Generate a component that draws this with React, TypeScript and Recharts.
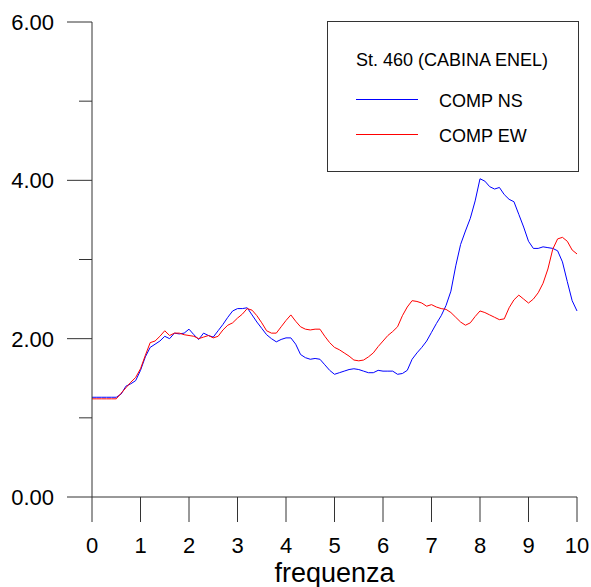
import { LineChart, Line, XAxis, YAxis, Legend } from 'recharts';

// frequency samples (Hz)
const freq = [
  0, 0.1, 0.2, 0.3, 0.4, 0.5, 0.6, 0.7, 0.8, 0.9,
  1, 1.1, 1.2, 1.3, 1.4, 1.5, 1.6, 1.7, 1.8, 1.9,
  2, 2.1, 2.2, 2.3, 2.4, 2.5, 2.6, 2.7, 2.8, 2.9,
  3, 3.1, 3.2, 3.3, 3.4, 3.5, 3.6, 3.7, 3.8, 3.9,
  4, 4.1, 4.2, 4.3, 4.4, 4.5, 4.6, 4.7, 4.8, 4.9,
  5, 5.1, 5.2, 5.3, 5.4, 5.5, 5.6, 5.7, 5.8, 5.9,
  6, 6.1, 6.2, 6.3, 6.4, 6.5, 6.6, 6.7, 6.8, 6.9,
  7, 7.1, 7.2, 7.3, 7.4, 7.5, 7.6, 7.7, 7.8, 7.9,
  8, 8.1, 8.2, 8.3, 8.4, 8.5, 8.6, 8.7, 8.8, 8.9,
  9, 9.1, 9.2, 9.3, 9.4, 9.5, 9.6, 9.7, 9.8, 9.9,
  10,
];

const compNS = [
  1.26, 1.26, 1.26, 1.26, 1.26, 1.26, 1.30, 1.40, 1.43, 1.47,
  1.60, 1.77, 1.89, 1.93, 1.97, 2.03, 2.00, 2.07, 2.06, 2.07,
  2.12, 2.05, 1.99, 2.07, 2.04, 2.02, 2.10, 2.18, 2.27, 2.35,
  2.38, 2.38, 2.39, 2.30, 2.21, 2.13, 2.05, 2.00, 1.96, 1.99,
  2.01, 2.01, 1.93, 1.80, 1.76, 1.74, 1.75, 1.74, 1.67, 1.60,
  1.55, 1.57, 1.59, 1.61, 1.62, 1.61, 1.59, 1.57, 1.57, 1.60,
  1.59, 1.59, 1.59, 1.55, 1.56, 1.60, 1.74, 1.82, 1.89, 1.97,
  2.08, 2.19, 2.29, 2.42, 2.60, 2.92, 3.19, 3.36, 3.52, 3.74,
  4.02, 3.99, 3.92, 3.89, 3.91, 3.82, 3.76, 3.73, 3.57, 3.41,
  3.23, 3.14, 3.14, 3.16, 3.15, 3.14, 3.11, 2.97, 2.72, 2.48,
  2.35,
];

const compEW = [
  1.24, 1.24, 1.24, 1.24, 1.24, 1.24, 1.31, 1.38, 1.45, 1.51,
  1.62, 1.79, 1.95, 1.97, 2.03, 2.10, 2.04, 2.07, 2.07, 2.05,
  2.04, 2.03, 2.00, 2.02, 2.04, 2.01, 2.03, 2.11, 2.17, 2.20,
  2.26, 2.31, 2.38, 2.36, 2.29, 2.20, 2.10, 2.07, 2.07, 2.15,
  2.23, 2.30, 2.22, 2.15, 2.12, 2.11, 2.12, 2.12, 2.03, 1.95,
  1.89, 1.86, 1.82, 1.78, 1.73, 1.72, 1.73, 1.77, 1.82, 1.90,
  1.97, 2.04, 2.09, 2.15, 2.29, 2.40, 2.48, 2.47, 2.45, 2.41,
  2.43, 2.40, 2.38, 2.37, 2.33, 2.27, 2.21, 2.17, 2.20, 2.28,
  2.35, 2.33, 2.30, 2.27, 2.24, 2.25, 2.39, 2.49, 2.55, 2.50,
  2.45, 2.50, 2.58, 2.70, 2.88, 3.13, 3.26, 3.28, 3.23, 3.12,
  3.07,
];

const xTicks = [0, 1, 2, 3, 4, 5, 6, 7, 8, 9, 10];
const yTicks = [0, 1, 2, 3, 4, 5, 6];
const labeledY = [0, 2, 4, 6];
const seriesOrder = ['COMP NS', 'COMP EW'];

const TITLE = 'St. 460 (CABINA ENEL)';
const FONT = '"Liberation Sans", Arial, sans-serif';
const AXIS = '#333';

const data = freq.map((f, i) => ({ f, ns: compNS[i], ew: compEW[i] }));

const YTick = ({ x, y, payload }: any) => {
  const major = labeledY.includes(payload.value);
  return (
    <g>
      <line x1={x - (major ? 25 : 13)} y1={y} x2={x} y2={y} stroke={AXIS} />
      {major && (
        <text x={x - 38} y={y + 8} textAnchor="end" fontSize={22} fontFamily={FONT} fill="#000">
          {payload.value.toFixed(2)}
        </text>
      )}
    </g>
  );
};

const XTick = ({ x, y, payload }: any) => (
  <g>
    <line x1={x} y1={y} x2={x} y2={y + 25} stroke={AXIS} />
    <text x={x} y={y + 56} textAnchor="middle" fontSize={22} fontFamily={FONT} fill="#000">
      {payload.value}
    </text>
  </g>
);

// boxed legend: title on top, one line sample per series
const LegendBox = ({ payload }: any) => {
  const items = [...(payload || [])].sort(
    (a: any, b: any) => seriesOrder.indexOf(a.value) - seriesOrder.indexOf(b.value)
  );
  return (
    <div
      style={{
        position: 'relative',
        width: 252,
        height: 151,
        border: `1px solid ${AXIS}`,
        boxSizing: 'border-box',
        background: '#fff',
        fontFamily: FONT,
        fontSize: 18,
        lineHeight: '18px',
        color: '#000',
      }}
    >
      <div style={{ position: 'absolute', left: 28, top: 29, whiteSpace: 'nowrap' }}>{TITLE}</div>
      {items.map((p: any, i: number) => (
        <div key={p.value}>
          <div
            style={{ position: 'absolute', left: 28, top: 77 + i * 35, width: 62, height: 1, background: p.color }}
          />
          <div style={{ position: 'absolute', left: 111, top: 70 + i * 35, whiteSpace: 'nowrap' }}>{p.value}</div>
        </div>
      ))}
    </div>
  );
};

export default function App() {
  return (
    <div style={{ position: 'absolute', left: 0, top: 0, background: '#fff' }}>
      <LineChart width={591} height={587} data={data} margin={{ top: 22, right: 14, bottom: 0, left: 22 }}>
        <XAxis
          dataKey="f"
          type="number"
          domain={[0, 10]}
          ticks={xTicks}
          interval={0}
          height={90}
          stroke={AXIS}
          tickSize={0}
          tickMargin={0}
          tick={<XTick />}
          label={{ value: 'frequenza', position: 'insideBottom', offset: 5, fontSize: 27, fontFamily: FONT, fill: '#000' }}
        />
        <YAxis
          type="number"
          domain={[0, 6]}
          ticks={yTicks}
          interval={0}
          width={70}
          stroke={AXIS}
          tickSize={0}
          tickMargin={0}
          tick={<YTick />}
        />
        <Legend
          layout="horizontal"
          verticalAlign="middle"
          align="center"
          width={252}
          height={151}
          wrapperStyle={{ left: 327, top: 21 }}
          content={<LegendBox />}
        />
        <Line
          dataKey="ns"
          name="COMP NS"
          stroke="#0000ff"
          strokeWidth={1}
          dot={false}
          type="linear"
          isAnimationActive={false}
        />
        <Line
          dataKey="ew"
          name="COMP EW"
          stroke="#ff0000"
          strokeWidth={1}
          dot={false}
          type="linear"
          isAnimationActive={false}
        />
      </LineChart>
    </div>
  );
}
